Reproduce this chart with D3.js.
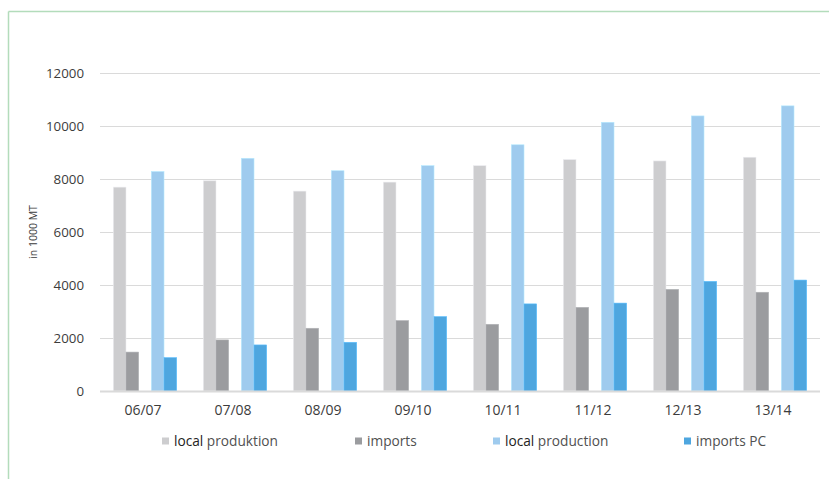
<!DOCTYPE html>
<html>
<head>
<meta charset="utf-8">
<script src="https://cdn.jsdelivr.net/npm/d3@7"></script>
<style>
  html, body { margin: 0; padding: 0; background: #fff; }
  svg { display: block; font-family: "Open Sans", sans-serif; }
</style>
</head>
<body>
<script>
// values, in 1000 MT
const categories = ['06/07', '07/08', '08/09', '09/10', '10/11', '11/12', '12/13', '13/14'];
const localProduktion = [7700, 7940, 7550, 7890, 8510, 8740, 8690, 8830];
const imports = [1470, 1930, 2370, 2660, 2520, 3160, 3840, 3730];
const localProduction = [8290, 8790, 8320, 8510, 9300, 10150, 10390, 10770];
const importsPC = [1260, 1740, 1840, 2810, 3290, 3320, 4140, 4190];
const yTicks = [0, 2000, 4000, 6000, 8000, 10000, 12000];

const seriesNames = ['local produktion', 'imports', 'local production', 'imports PC'];
const seriesData = [localProduktion, imports, localProduction, importsPC];
const colors = ['#cdcdcf', '#9b9c9f', '#9fcbee', '#4ea6df'];

const width = 829, height = 479;
const svg = d3.select('body').append('svg')
    .attr('width', width)
    .attr('height', height);

// green frame (top and left only)
svg.append('line').attr('x1', 8.5).attr('x2', width).attr('y1', 11.5).attr('y2', 11.5)
    .attr('stroke', '#b3dcbb').attr('stroke-width', 1.5);
svg.append('line').attr('x1', 8.5).attr('x2', 8.5).attr('y1', 11.5).attr('y2', height)
    .attr('stroke', '#b3dcbb').attr('stroke-width', 1.5);

const x0 = d3.scaleBand()
    .domain(categories)
    .range([100, 820])
    .paddingInner(0.296)
    .paddingOuter(0.148);

// two pairs of bars with one empty slot between them
const x1 = d3.scaleBand()
    .domain(['s0', 's1', 'gap', 's2', 's3'])
    .range([0, x0.bandwidth()]);

const y = d3.scaleLinear().domain([0, 12000]).range([391, 73.3]);

// gridlines
svg.append('g')
    .selectAll('line')
    .data(yTicks.filter(d => d > 0))
    .join('line')
    .attr('x1', 100).attr('x2', 820)
    .attr('y1', d => Math.round(y(d)) + 0.5)
    .attr('y2', d => Math.round(y(d)) + 0.5)
    .attr('stroke', '#dadada')
    .attr('stroke-width', 1);

// y tick labels
svg.append('g')
    .selectAll('text')
    .data(yTicks)
    .join('text')
    .attr('x', 84)
    .attr('y', d => y(d))
    .attr('dy', '0.35em')
    .attr('text-anchor', 'end')
    .attr('font-size', 13.3)
    .attr('fill', '#3c3c3c')
    .text(d => d);

// y axis title
svg.append('text')
    .attr('transform', 'translate(37,232) rotate(-90)')
    .attr('text-anchor', 'middle')
    .attr('font-size', 10.5)
    .attr('fill', '#3c3c3c')
    .text('in 1000 MT');

// bars
const slots = ['s0', 's1', 's2', 's3'];
seriesData.forEach((vals, s) => {
    svg.append('g')
        .selectAll('rect')
        .data(vals)
        .join('rect')
        .attr('x', (d, i) => x0(categories[i]) + x1(slots[s]))
        .attr('width', x1.bandwidth())
        .attr('y', d => y(d))
        .attr('height', d => y(0) - y(d))
        .attr('fill', colors[s])
        .attr('stroke', d3.color(colors[s]).brighter(0.4))
        .attr('stroke-width', 0.6);
});

// baseline
svg.append('line')
    .attr('x1', 100).attr('x2', 820)
    .attr('y1', y(0) + 0.5).attr('y2', y(0) + 0.5)
    .attr('stroke', '#dadada')
    .attr('stroke-width', 2);

// x labels
svg.append('g')
    .selectAll('text')
    .data(categories)
    .join('text')
    .attr('x', d => x0(d) + x0.bandwidth() / 2 - 2)
    .attr('y', 410.5)
    .attr('dy', '0.35em')
    .attr('text-anchor', 'middle')
    .attr('font-size', 14)
    .attr('fill', '#3c3c3c')
    .text(d => d);

// legend
const legendX = [162, 355, 493, 684];
const legend = svg.append('g')
    .selectAll('g')
    .data(seriesNames)
    .join('g')
    .attr('transform', (d, i) => `translate(${legendX[i]},441)`);

legend.append('rect')
    .attr('x', 0).attr('y', -3.5)
    .attr('width', 7).attr('height', 7)
    .attr('fill', (d, i) => colors[i]);

const legendText = legend.append('text')
    .attr('x', 12)
    .attr('dy', '0.35em')
    .attr('font-size', 13.7)
    .attr('fill', '#505050');

// the word "local" prints darker than the rest in the original
legendText.each(function (d) {
    const t = d3.select(this);
    if (d.startsWith('local ')) {
        t.append('tspan').attr('fill', '#222').text('local');
        t.append('tspan').text(d.slice(5));
    } else {
        t.text(d);
    }
});
</script>
</body>
</html>
